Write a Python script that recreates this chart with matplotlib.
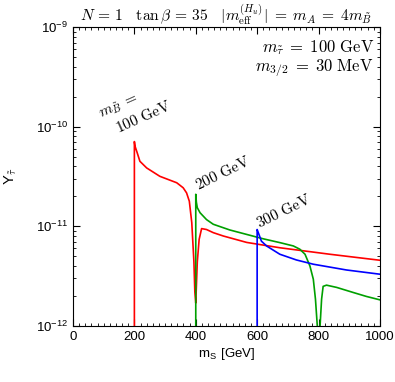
import matplotlib
matplotlib.use('Agg')
import matplotlib.pyplot as plt
from matplotlib.ticker import MultipleLocator, LogLocator

plt.rcParams['mathtext.fontset'] = 'cm'
plt.rcParams['font.family'] = ['Liberation Sans', 'DejaVu Sans']

# m_Btilde = 100 GeV
red_x = [200, 200, 202, 209, 218, 240, 283, 338, 359, 370, 379, 387, 394, 397, 400,
         405, 411, 419, 435, 457, 490, 566, 674, 837, 1000]
red_y = [1e-13, 7.1e-11, 6.4e-11, 5.5e-11, 4.5e-11, 3.86e-11, 3.18e-11, 2.74e-11, 2.44e-11,
         2.17e-11, 1.79e-11, 1.09e-11, 4.4e-12, 2.2e-12, 1.7e-12,
         4.4e-12, 7.4e-12, 9.5e-12, 9.3e-12, 8.65e-12, 8.0e-12, 6.9e-12, 6.1e-12, 5.25e-12, 4.57e-12]

# m_Btilde = 200 GeV
green_x = [400, 400, 402, 405, 414, 435, 457, 511, 566, 620, 674, 718, 739, 756, 772, 783,
           790, 796, 800, 805, 810, 815, 826, 859, 913, 956, 1000]
green_y = [1e-13, 2.1e-11, 1.75e-11, 1.54e-11, 1.37e-11, 1.17e-11, 1.05e-11, 9.2e-12, 8.3e-12,
           7.5e-12, 6.87e-12, 6.36e-12, 5.9e-12, 5.25e-12, 4.0e-12, 2.95e-12,
           1.86e-12, 1.0e-12, 5e-13, 1.0e-12, 1.86e-12, 2.5e-12, 2.57e-12, 2.44e-12, 2.17e-12,
           1.98e-12, 1.83e-12]

# m_Btilde = 300 GeV
blue_x = [600, 600, 604, 614, 631, 674, 728, 783, 891, 1000]
blue_y = [1e-13, 9.3e-12, 8.6e-12, 7.1e-12, 6.35e-12, 5.25e-12, 4.6e-12, 4.17e-12, 3.65e-12, 3.31e-12]

xticks = [0, 200, 400, 600, 800, 1000]
yticks = [1e-12, 1e-11, 1e-10, 1e-9]
ytick_labels = [r'$\mathregular{10^{-12}}$', r'$\mathregular{10^{-11}}$',
                r'$\mathregular{10^{-10}}$', r'$\mathregular{10^{-9}}$']

fig = plt.figure(figsize=(3.95, 3.82), dpi=100)
ax = fig.add_axes([0.1848, 0.1466, 0.777, 0.7824])

ax.plot(red_x, red_y, color='#ff0000', lw=1.2)
ax.plot(green_x, green_y, color='#00a000', lw=1.2)
ax.plot(blue_x, blue_y, color='#0000ff', lw=1.2)

ax.set_yscale('log')
ax.set_xlim(0, 1000)
ax.set_ylim(1e-12, 1e-9)
ax.set_xticks(xticks)
ax.xaxis.set_minor_locator(MultipleLocator(20))
ax.set_yticks(yticks)
ax.set_yticklabels(ytick_labels)
ax.yaxis.set_minor_locator(LogLocator(base=10, subs=range(2, 10)))
ax.yaxis.set_minor_formatter(plt.NullFormatter())
ax.tick_params(which='both', direction='in', top=True, right=True, labelsize=9.5)
ax.tick_params(which='major', length=5)
ax.tick_params(which='minor', length=2.5)

ax.set_xlabel(r'm$_\mathregular{S}$ [GeV]', fontsize=9.5, labelpad=2)
ax.set_ylabel(r'Y$_{\tilde{\tau}}$', fontsize=10.5, labelpad=12)

ax.set_title(r'$N\,=\,1\ \ \ \tan\beta\,=\,35\ \ \ |m_{\rm eff}^{(H_u)}|\;=\;m_A\;=\;4m_{\tilde{B}}$',
             fontsize=11.2, pad=3)

ax.text(0.98, 0.93, r'$m_{\tilde{\tau}}\;=\;100\ {\rm GeV}$', transform=ax.transAxes,
        ha='right', va='center', fontsize=12)
ax.text(0.98, 0.862, r'$m_{3/2}\;=\;30\ {\rm MeV}$', transform=ax.transAxes,
        ha='right', va='center', fontsize=12)

ax.text(150, 1.6e-10, r'$m_{\tilde{B}}\;=$', rotation=24,
        ha='center', va='center', fontsize=11, rotation_mode='anchor')
ax.text(230, 1.24e-10, r'$100\ {\rm GeV}$', rotation=24,
        ha='center', va='center', fontsize=11, rotation_mode='anchor')
ax.text(489, 3.39e-11, r'$200\ {\rm GeV}$', rotation=26, ha='center', va='center', fontsize=11,
        rotation_mode='anchor')
ax.text(686, 1.41e-11, r'$300\ {\rm GeV}$', rotation=26, ha='center', va='center', fontsize=11,
        rotation_mode='anchor')

fig.savefig('out.png', dpi=100)
